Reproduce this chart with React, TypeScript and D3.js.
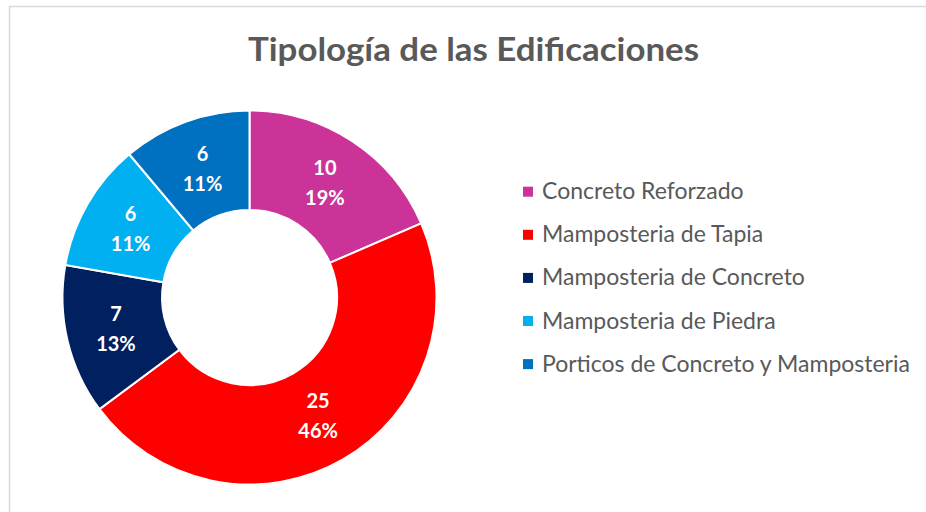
import React from "react";
import * as d3 from "d3";

const categories = [
  "Concreto Reforzado",
  "Mamposteria de Tapia",
  "Mamposteria de Concreto",
  "Mamposteria de Piedra",
  "Porticos de Concreto y Mamposteria",
];
const values = [10, 25, 7, 6, 6];
const colors = ["#CC3399", "#FF0000", "#002060", "#00B0F0", "#0070C0"];
const title = "Tipología de las Edificaciones";

const W = 926;
const H = 512;
const cx = 249.5;
const cy = 297.5;
const outerR = 187;
const innerR = 87.5;

export default function App() {
  const total = d3.sum(values);
  const pie = d3.pie<number>().sort(null).value((d) => d);
  const arcs = pie(values);
  const arc = d3.arc<d3.PieArcDatum<number>>().innerRadius(innerR).outerRadius(outerR);
  const fmt = d3.format(".0%");

  return (
    <svg width={W} height={H} style={{ position: "absolute", left: 0, top: 0 }}>
      <rect x={0} y={0} width={W} height={H} fill="#ffffff" />
      <rect x={9.5} y={6.5} width={W} height={H} fill="#ffffff" stroke="#D9D9D9" strokeWidth={1.5} />
      <text
        x={473.5}
        y={61}
        textAnchor="middle"
        fontFamily="Lato, 'Open Sans', sans-serif"
        fontWeight={700}
        fontSize={33}
        fill="#595959"
        textLength={451}
        lengthAdjust="spacingAndGlyphs"
      >
        {title}
      </text>
      <g transform={`translate(${cx},${cy})`}>
        {arcs.map((a, i) => (
          <path key={i} d={arc(a) || ""} fill={colors[i]} stroke="#ffffff" strokeWidth={2} />
        ))}
        {arcs.map((a, i) => {
          const [x, y] = arc.centroid(a);
          return (
            <g key={"l" + i} fontFamily="Lato, 'Open Sans', sans-serif" fontWeight={700} fontSize={20} fill="#ffffff" textAnchor="middle">
              <text x={x} y={y - 8}>{values[i]}</text>
              <text x={x} y={y + 22}>{fmt(values[i] / total)}</text>
            </g>
          );
        })}
      </g>
      <g>
        {categories.map((c, i) => {
          const y = 191.7 + i * 43.1;
          return (
            <g key={c}>
              <rect x={523} y={y - 5} width={10} height={10} fill={colors[i]} />
              <text x={542} y={y + 7.5} fontFamily="Lato, 'Open Sans', sans-serif" fontSize={23} fill="#595959">
                {c}
              </text>
            </g>
          );
        })}
      </g>
    </svg>
  );
}
